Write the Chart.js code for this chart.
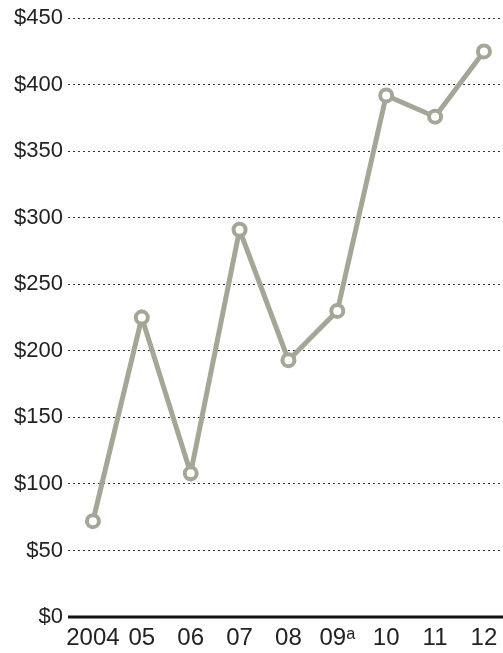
<!DOCTYPE html>
<html>
<head>
<meta charset="utf-8">
<script src="https://cdn.jsdelivr.net/npm/chart.js@4"></script>
<style>
html,body{margin:0;padding:0;background:#fff;}
#wrap{width:503px;height:653px;position:relative;}
</style>
</head>
<body>
<div id="wrap"><canvas id="c"></canvas></div>
<script>
const categories = ['2004', '05', '06', '07', '08', '09ᵃ', '10', '11', '12'];
const values = [72, 225, 108, 291, 193, 230, 392, 376, 425];
const yTicks = [0, 50, 100, 150, 200, 250, 300, 350, 400, 450];

const lineColor = '#a4a795';

const baseline = {
  id: 'baseline',
  afterDatasetsDraw(chart) {
    const {ctx, chartArea, scales} = chart;
    const y = scales.y.getPixelForValue(0);
    ctx.save();
    ctx.strokeStyle = '#111';
    ctx.lineWidth = 3;
    ctx.beginPath();
    ctx.moveTo(chartArea.left, y);
    ctx.lineTo(chartArea.right, y);
    ctx.stroke();
    ctx.restore();
  }
};

new Chart(document.getElementById('c'), {
  type: 'line',
  data: {
    datasets: [{
      data: values.map((v, i) => ({x: i, y: v})),
      borderColor: lineColor,
      borderWidth: 5,
      pointRadius: 6,
      pointBorderWidth: 4,
      pointBackgroundColor: '#fff',
      pointBorderColor: lineColor,
      tension: 0,
      clip: false
    }]
  },
  options: {
    responsive: true,
    maintainAspectRatio: false,
    animation: false,
    layout: {autoPadding: false, padding: {top: 18, right: 0, bottom: 0, left: 0}},
    plugins: {legend: {display: false}, tooltip: {enabled: false}},
    scales: {
      x: {
        type: 'linear',
        min: -0.51,
        max: 8.39,
        afterFit: (s) => { s.height = 36; s.paddingLeft = 0; s.paddingRight = 0; },
        grid: {display: false, drawTicks: false},
        border: {display: false},
        ticks: {
          stepSize: 1,
          includeBounds: false,
          autoSkip: false,
          maxRotation: 0,
          padding: 7,
          color: '#222',
          font: {family: '"Liberation Sans Narrow", "Liberation Sans", sans-serif', size: 24},
          callback: (v) => (Number.isInteger(v) && categories[v] !== undefined) ? categories[v] : ''
        }
      },
      y: {
        min: 0,
        max: 450,
        afterBuildTicks: (s) => { s.ticks = yTicks.map(v => ({value: v})); },
        afterFit: (s) => { s.width = 68; },
        grid: {
          drawTicks: false,
          color: (c) => c.tick && c.tick.value === 0 ? 'rgba(0,0,0,0)' : '#333',
          lineWidth: 1
        },
        border: {display: false, dash: [2, 3]},
        ticks: {
          padding: 5,
          color: '#222',
          font: {family: '"Liberation Sans Narrow", "Liberation Sans", sans-serif', size: 22},
          callback: (v) => '$' + v
        }
      }
    }
  },
  plugins: [baseline]
});
</script>
</body>
</html>
